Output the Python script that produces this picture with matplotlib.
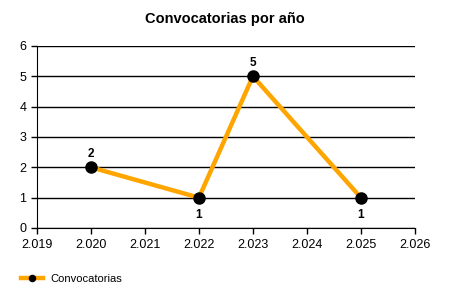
import matplotlib
matplotlib.use("Agg")
import matplotlib.pyplot as plt
from matplotlib.ticker import FuncFormatter

years = [2020, 2022, 2023, 2025]
counts = [2, 1, 5, 1]
label_above = [True, False, True, False]

plt.rcParams["font.family"] = ["Liberation Sans", "DejaVu Sans"]
plt.rcParams["font.size"] = 9

fig = plt.figure(figsize=(4.5, 3), dpi=100)
ax = fig.add_axes([0.082, 0.24, 0.84, 0.607])

ax.plot(years, counts, color="#FFA500", linewidth=3.2, marker="o",
        markersize=8, markerfacecolor="black", markeredgecolor="black",
        label="Convocatorias", zorder=3)

for x, y, up in zip(years, counts, label_above):
    ax.annotate(str(y), (x, y), xytext=(0, 5 if up else -8),
                textcoords="offset points", ha="center",
                va="bottom" if up else "top", fontweight="bold", fontsize=8.5)

ax.set_xlim(2019, 2026)
ax.set_ylim(0, 6)
ax.set_xticks(range(2019, 2027))
ax.set_yticks(range(0, 7))
ax.xaxis.set_major_formatter(FuncFormatter(lambda v, p: f"{int(v):,}".replace(",", ".")))
ax.yaxis.grid(True, color="black", linewidth=1)
ax.set_axisbelow(True)
for s in ["top", "right"]:
    ax.spines[s].set_visible(False)
ax.tick_params(length=4, width=1, colors="black")
ax.tick_params(axis="x", pad=4)

fig.suptitle("Convocatorias por año", y=0.96, fontweight="bold", fontsize=10.5)

fig.legend(loc="lower left", bbox_to_anchor=(0.025, 0.02), frameon=False,
           handlelength=2.0, handletextpad=0.6, markerscale=0.55, fontsize=8)

fig.savefig("out.png", dpi=100)
